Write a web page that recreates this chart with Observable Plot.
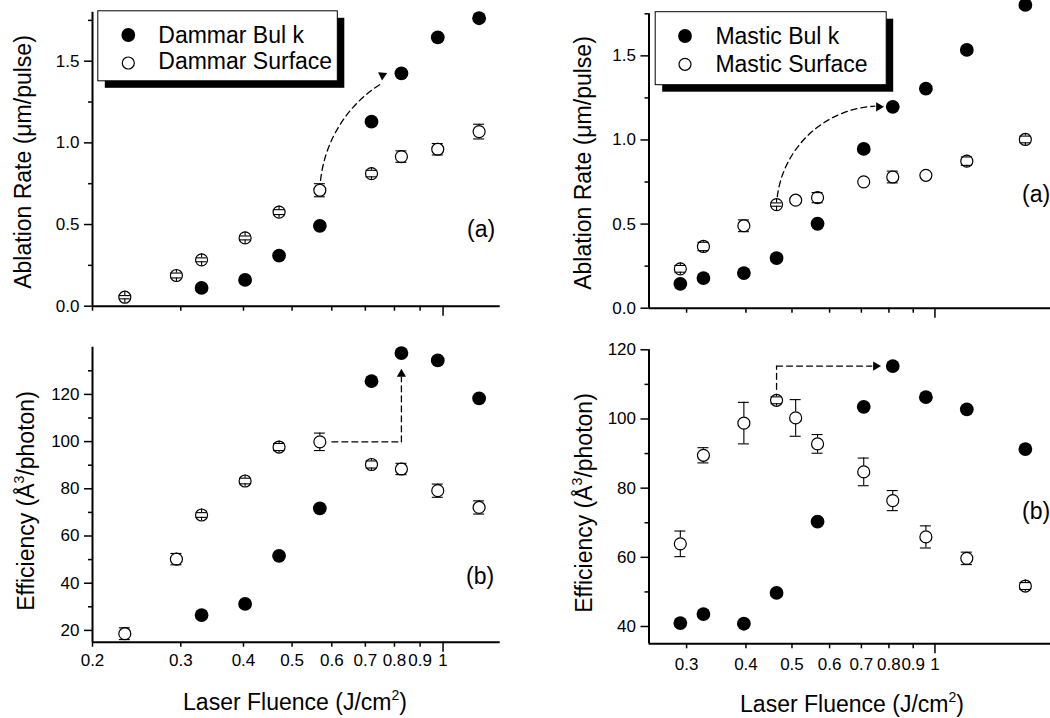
<!DOCTYPE html>
<html><head><meta charset="utf-8">
<script src="https://cdn.jsdelivr.net/npm/d3@7"></script>
<script src="https://cdn.jsdelivr.net/npm/@observablehq/plot@0.6"></script>
<style>
html,body{margin:0;padding:0;background:#fff;}
#root{position:relative;width:1050px;height:718px;overflow:hidden;background:#fff;font-family:"Liberation Sans",Arial,sans-serif;color:#000;}
#root svg{position:absolute;}
</style></head><body><div id="root"></div>
<script>
// ---------- data ----------
const dammarFluence     = [0.232, 0.294, 0.330, 0.403, 0.471, 0.568, 0.720, 0.826, 0.976, 1.18];
const dammarSurfRate    = [0.055, 0.188, 0.284, 0.418, 0.576, 0.710, 0.812, 0.916, 0.961, 1.069];
const dammarSurfRateErr = [0.010, 0.015, 0.012, 0.012, 0.015, 0.040, 0.020, 0.035, 0.035, 0.045];
const dammarBulkRate    = [null, null, 0.112, 0.161, 0.310, 0.492, 1.130, 1.426, 1.646, 1.763];
const dammarSurfEff     = [18.6, 50.2, 68.9, 83.3, 97.7, 99.9, 90.3, 88.4, 79.2, 72.1];
const dammarSurfEffErr  = [2.5, 2.4, 1.0, 1.2, 1.5, 3.7, 1.5, 2.4, 2.8, 2.8];
const dammarBulkEff     = [null, null, 26.5, 31.2, 51.6, 71.7, 125.6, 137.5, 134.4, 118.3];

const masticFluence     = [0.291, 0.3255, 0.396, 0.464, 0.509, 0.566, 0.708, 0.815, 0.957, 1.167, 1.55];
const masticSurfRate    = [0.234, 0.367, 0.490, 0.616, 0.642, 0.657, 0.751, 0.780, 0.790, 0.874, 1.003];
const masticSurfRateErr = [0.020, 0.025, 0.035, 0.010, null, 0.030, null, 0.035, null, 0.025, 0.020];
const masticBulkRate    = [0.145, 0.179, 0.209, 0.298, null, 0.502, 0.947, 1.197, 1.305, 1.535, 1.803];
const masticSurfEff     = [63.9, 89.5, 98.8, 105.4, 100.3, 92.8, 84.7, 76.4, 65.9, 59.7, 51.7];
const masticSurfEffErr  = [3.7, 2.2, 6.0, 1.0, 5.3, 2.7, 4.0, 2.9, 3.2, 1.8, 1.0];
const masticBulkEff     = [41.0, 43.6, 40.8, 49.7, null, 70.3, 103.5, 115.3, 106.3, 102.8, 91.3];

const legendDammar = ["Dammar Bul k", "Dammar Surface"];
const legendMastic = ["Mastic Bul k", "Mastic Surface"];
const panelLabels  = ["(a)", "(b)"];

const leftXMinor  = [0.2, 0.3, 0.4, 0.5, 0.6, 0.7, 0.8, 0.9];
const rightXMinor = [0.3, 0.4, 0.5, 0.6, 0.7, 0.8, 0.9];
const xMajor      = [1];
const leftXDomain  = [0.2, 1.3];
const rightXDomain = [0.25, 1.8];

const rateMajor = [0, 0.5, 1.0, 1.5];
const rateMinor = [0.25, 0.75, 1.25, 1.75];
const dammarRateDomain = [0, 1.8];
const masticRateDomain = [0, 1.75];
const dammarEffMajor = [20, 40, 60, 80, 100, 120];
const dammarEffMinor = [30, 50, 70, 90, 110, 130];
const dammarEffDomain = [15, 140];
const masticEffMajor = [40, 60, 80, 100, 120];
const masticEffMinor = [50, 70, 90, 110];
const masticEffDomain = [35, 120];

// ---------- helpers ----------
const root = document.getElementById("root");
const FONT = "Liberation Sans, Arial, sans-serif";
const TICKFS = 17;
const BIGFS = 23;
const dash = "6,4";

function rows(xs, surf, err, bulk) {
  return xs.map((x, i) => ({x, surf: surf[i], err: err[i], bulk: bulk[i]}));
}

function axes(xDom, yDom, xMinor, yMajor, yMinor, yFmt, xLabels, xPad) {
  const m = [
    Plot.ruleX([xDom[0]], {strokeWidth: 2}),
    Plot.ruleY([yDom[0]], {strokeWidth: 2}),
    Plot.axisY({ticks: yMajor, tickSize: 8, tickPadding: 5, tickFormat: yFmt, fontSize: TICKFS, strokeWidth: 1.5, label: null}),
    Plot.ruleY(yMinor, {y: d => d, x1: () => xDom[0], x2: () => xDom[0], insetLeft: -4, strokeWidth: 1.5})
  ];
  if (xLabels) {
    m.push(Plot.axisX({ticks: xMinor, tickSize: 5, tickPadding: xPad, tickFormat: d => String(d), fontSize: TICKFS, strokeWidth: 1.5, label: null}));
    m.push(Plot.axisX({ticks: xMajor, tickSize: 10, tickPadding: xPad - 5, tickFormat: d => String(d), fontSize: TICKFS, strokeWidth: 1.5, label: null}));
  } else {
    m.push(Plot.ruleX(xMinor, {x: d => d, y1: () => yDom[0], y2: () => yDom[0], insetBottom: -5, strokeWidth: 1.5}));
    m.push(Plot.ruleX(xMajor, {x: d => d, y1: () => yDom[0], y2: () => yDom[0], insetBottom: -10, strokeWidth: 1.5}));
  }
  return m;
}

function points(data) {
  const up = d => d.err == null ? null : d.surf + d.err;
  const lo = d => d.err == null ? null : d.surf - d.err;
  return [
    Plot.dot(data, {x: "x", y: "bulk", r: 6.9, fill: "black"}),
    Plot.dot(data, {x: "x", y: "surf", r: 6, fill: "white", stroke: "black", strokeWidth: 1.2}),
    Plot.ruleX(data, {x: "x", y1: up, y2: "surf", insetBottom: 6, strokeWidth: 1.1}),
    Plot.ruleX(data, {x: "x", y1: "surf", y2: lo, insetTop: 6, strokeWidth: 1.1}),
    Plot.ruleY(data, {y: up, x1: "x", x2: "x", insetLeft: -5.5, insetRight: -5.5, strokeWidth: 1.1}),
    Plot.ruleY(data, {y: lo, x1: "x", x2: "x", insetLeft: -5.5, insetRight: -5.5, strokeWidth: 1.1})
  ];
}

function panel(g, xDom, yDom, marks) {
  const svg = Plot.plot({
    width: g.width, height: g.height,
    marginLeft: g.ml, marginRight: g.mr, marginTop: g.mt, marginBottom: g.mb,
    x: {type: "log", domain: xDom, axis: null},
    y: {domain: yDom, axis: null},
    style: {background: "transparent", fontFamily: FONT, fontSize: TICKFS + "px", color: "black", overflow: "visible"},
    marks
  });
  svg.style.left = g.left + "px";
  svg.style.top = g.top + "px";
  root.appendChild(svg);
}

// ---------- data tables ----------
const dammarRate = rows(dammarFluence, dammarSurfRate, dammarSurfRateErr, dammarBulkRate);
const dammarEff  = rows(dammarFluence, dammarSurfEff, dammarSurfEffErr, dammarBulkEff);
const masticRate = rows(masticFluence, masticSurfRate, masticSurfRateErr, masticBulkRate);
const masticEff  = rows(masticFluence, masticSurfEff, masticSurfEffErr, masticBulkEff);

const fmt1 = d3.format(".1f");
const fmt0 = d3.format("d");

// ---------- top-left: Dammar ablation rate ----------
panel({left: 0, top: 0, width: 530, height: 320, ml: 92, mr: 30.3, mt: 11.7, mb: 14.3},
  leftXDomain, dammarRateDomain, [
    ...axes(leftXDomain, dammarRateDomain, leftXMinor, rateMajor, rateMinor, fmt1, false, 7),
    Plot.arrow([0], {x1: () => dammarFluence[5], y1: () => dammarSurfRate[5], x2: () => dammarFluence[7], y2: () => dammarBulkRate[7],
      bend: 33, insetStart: 10, insetEnd: 22, headLength: 0, strokeWidth: 1.3, strokeDasharray: dash}),
    ...points(dammarRate),
    Plot.dot([0], {x: () => dammarFluence[7], y: () => dammarBulkRate[7], symbol: "triangle", r: 3.4, fill: "black", stroke: "none", rotate: 64, dx: -19, dy: 2})
  ]);

// ---------- bottom-left: Dammar efficiency ----------
panel({left: 0, top: 330, width: 530, height: 388, ml: 92, mr: 30.3, mt: 16.7, mb: 76.3},
  leftXDomain, dammarEffDomain, [
    ...axes(leftXDomain, dammarEffDomain, leftXMinor, dammarEffMajor, dammarEffMinor, fmt0, true, 7),
    Plot.arrow([0], {x1: () => dammarFluence[5], y1: () => dammarSurfEff[5], x2: () => dammarFluence[7], y2: () => dammarSurfEff[5],
      insetStart: 12, headLength: 0, strokeWidth: 1.3, strokeDasharray: dash}),
    Plot.arrow([0], {x1: () => dammarFluence[7], y1: () => dammarSurfEff[5], x2: () => dammarFluence[7], y2: () => dammarBulkEff[7],
      insetEnd: 24, headLength: 0, strokeWidth: 1.3, strokeDasharray: dash}),
    ...points(dammarEff),
    Plot.dot([0], {x: () => dammarFluence[7], y: () => dammarBulkEff[7], symbol: "triangle", r: 3.4, fill: "black", stroke: "none", rotate: 0, dx: 0, dy: 21})
  ]);

// ---------- top-right: Mastic ablation rate ----------
panel({left: 520, top: 0, width: 560, height: 320, ml: 128.5, mr: 24.3, mt: 13.3, mb: 12.3},
  rightXDomain, masticRateDomain, [
    ...axes(rightXDomain, masticRateDomain, rightXMinor, rateMajor, rateMinor, fmt1, false, 9),
    Plot.arrow([0], {x1: () => masticFluence[3], y1: () => masticSurfRate[3], x2: () => masticFluence[7], y2: () => masticBulkRate[7],
      bend: 47, insetStart: 8, insetEnd: 18, headLength: 0, strokeWidth: 1.3, strokeDasharray: dash}),
    ...points(masticRate),
    Plot.dot([0], {x: () => masticFluence[7], y: () => masticBulkRate[7], symbol: "triangle", r: 3.4, fill: "black", stroke: "none", rotate: 90, dx: -14, dy: 0})
  ]);

// ---------- bottom-right: Mastic efficiency ----------
panel({left: 520, top: 330, width: 560, height: 388, ml: 128.5, mr: 24.3, mt: 19.3, mb: 74.7},
  rightXDomain, masticEffDomain, [
    ...axes(rightXDomain, masticEffDomain, rightXMinor, masticEffMajor, masticEffMinor, fmt0, true, 9),
    Plot.arrow([0], {x1: () => masticFluence[3], y1: () => masticSurfEff[3], x2: () => masticFluence[3], y2: () => masticBulkEff[7],
      insetStart: 11, headLength: 0, strokeWidth: 1.3, strokeDasharray: dash}),
    Plot.arrow([0], {x1: () => masticFluence[3], y1: () => masticBulkEff[7], x2: () => masticFluence[7], y2: () => masticBulkEff[7],
      insetEnd: 21, headLength: 0, strokeWidth: 1.3, strokeDasharray: dash}),
    ...points(masticEff),
    Plot.dot([0], {x: () => masticFluence[7], y: () => masticBulkEff[7], symbol: "triangle", r: 3.4, fill: "black", stroke: "none", rotate: 90, dx: -17, dy: 0})
  ]);

// ---------- overlay: legends, axis titles, panel labels ----------
const NS = "http://www.w3.org/2000/svg";
const ov = document.createElementNS(NS, "svg");
ov.setAttribute("width", 1050); ov.setAttribute("height", 718);
ov.style.left = "0px"; ov.style.top = "0px"; ov.style.pointerEvents = "none";
ov.setAttribute("font-family", FONT);
root.appendChild(ov);

function el(tag, attrs, text) {
  const e = document.createElementNS(NS, tag);
  for (const k in attrs) e.setAttribute(k, attrs[k]);
  if (text != null) e.textContent = text;
  ov.appendChild(e);
  return e;
}
function legend(box, labels) {
  el("rect", {x: box.x + 7, y: box.y + 7, width: box.w, height: box.h, fill: "black"});
  el("rect", {x: box.x, y: box.y, width: box.w, height: box.h, fill: "white", stroke: "black", "stroke-width": 1});
  el("circle", {cx: box.cx, cy: box.c1, r: 6.9, fill: "black"});
  el("circle", {cx: box.cx, cy: box.c2, r: 6, fill: "white", stroke: "black", "stroke-width": 1.2});
  el("text", {x: box.tx, y: box.b1, "font-size": BIGFS}, labels[0]);
  el("text", {x: box.tx, y: box.b2, "font-size": BIGFS}, labels[1]);
}
legend({x: 97.8, y: 10.8, w: 239.5, h: 70, cx: 128.3, c1: 35, c2: 63, tx: 158.3, b1: 42.5, b2: 68.5}, legendDammar);
legend({x: 655.2, y: 11.7, w: 231, h: 73, cx: 685, c1: 36, c2: 64.3, tx: 715.4, b1: 44, b2: 71.7}, legendMastic);

function titleWithSup(attrs, before, sup, after) {
  const t = el("text", Object.assign({"font-size": BIGFS, "text-anchor": "middle"}, attrs));
  const a = document.createElementNS(NS, "tspan"); a.textContent = before; t.appendChild(a);
  const s = document.createElementNS(NS, "tspan"); s.textContent = sup;
  s.setAttribute("font-size", 14); s.setAttribute("dy", -10); t.appendChild(s);
  const b = document.createElementNS(NS, "tspan"); b.textContent = after; b.setAttribute("dy", 10); t.appendChild(b);
  return t;
}
el("text", {"font-size": BIGFS, "text-anchor": "middle", transform: "translate(31,162) rotate(-90)"}, "Ablation Rate (\u03bcm/pulse)");
el("text", {"font-size": BIGFS, "text-anchor": "middle", transform: "translate(591,163) rotate(-90)"}, "Ablation Rate (\u03bcm/pulse)");
titleWithSup({transform: "translate(34,501) rotate(-90)"}, "Efficiency (\u00c5", "3", "/photon)");
titleWithSup({transform: "translate(591.5,503) rotate(-90)"}, "Efficiency (\u00c5", "3", "/photon)");
titleWithSup({x: 295, y: 710}, "Laser Fluence (J/cm", "2", ")");
titleWithSup({x: 852, y: 711.5}, "Laser Fluence (J/cm", "2", ")");

el("text", {x: 467, y: 237, "font-size": BIGFS}, panelLabels[0]);
el("text", {x: 1022, y: 202, "font-size": BIGFS}, panelLabels[0]);
el("text", {x: 466, y: 583.5, "font-size": BIGFS}, panelLabels[1]);
el("text", {x: 1022, y: 518.5, "font-size": BIGFS}, panelLabels[1]);
</script>
</body></html>
